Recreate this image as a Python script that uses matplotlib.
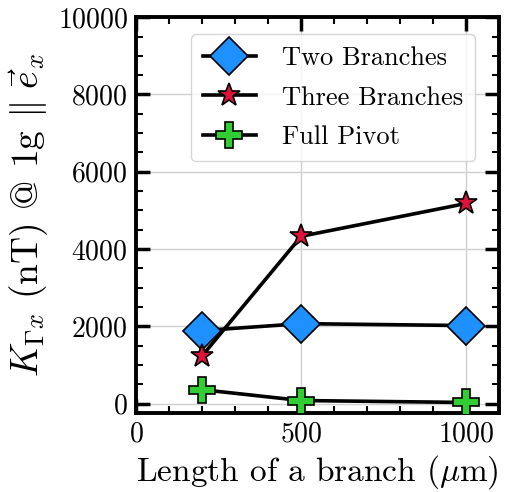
import numpy as np
import matplotlib
matplotlib.use("Agg")
from matplotlib import pyplot as plt
from matplotlib.ticker import MultipleLocator

plt.rcParams['font.family'] = ['cmr10', 'DejaVu Serif']
plt.rcParams['mathtext.fontset'] = 'cm'
plt.rcParams['axes.unicode_minus'] = False
plt.rcParams['axes.formatter.use_mathtext'] = True

lengths = [200, 500, 1000]
two_branches = [1890, 2070, 2020]
three_branches = [1240, 4330, 5180]
full_pivot = [360, 80, 30]

fig = plt.figure(figsize=(5.12, 4.92), dpi=100)
ax = fig.add_axes([0.266, 0.160, 0.709, 0.805])

ax.plot(lengths, two_branches, color='black', lw=2.6, marker='D', ms=19,
	mfc='#1E90FF', mec='black', mew=1.2, label='Two Branches', zorder=3)
ax.plot(lengths, three_branches, color='black', lw=2.6, marker='*', ms=17,
	mfc='#DC143C', mec='black', mew=1.2, label='Three Branches', zorder=4)
ax.plot(lengths, full_pivot, color='black', lw=2.6, marker='P', ms=19,
	mfc='#32CD32', mec='black', mew=1.2, label='Full Pivot', zorder=5)

ax.set_xlim(0, 1100)
ax.set_ylim(-250, 10000)
ax.set_xticks([0, 500, 1000])
ax.set_yticks([0, 2000, 4000, 6000, 8000, 10000])
ax.xaxis.set_minor_locator(MultipleLocator(100))
ax.yaxis.set_minor_locator(MultipleLocator(500))
ax.tick_params(which='both', direction='in', top=True, right=True, labelsize=20)
ax.tick_params(which='major', length=10, width=2.5, pad=6)
ax.tick_params(which='minor', length=5, width=1.5)
for s in ax.spines.values():
	s.set_linewidth(2.8)
ax.grid(True, which='major', color='#d0d0d0', lw=1.0)
ax.set_axisbelow(True)

ax.set_xlabel(r'Length of a branch ($\mu$m)', fontsize=24, labelpad=4)
ax.set_ylabel(r'$K_{\Gamma x}$ (nT) @ 1g $\|\ \vec{e}_x$', fontsize=27, labelpad=5)

leg = ax.legend(loc='upper right', fontsize=19, handlelength=2.0, labelspacing=0.6,
	borderpad=0.45, handletextpad=1.0, framealpha=0.8, bbox_to_anchor=(0.97, 0.99))

fig.savefig("out.png", dpi=100)
